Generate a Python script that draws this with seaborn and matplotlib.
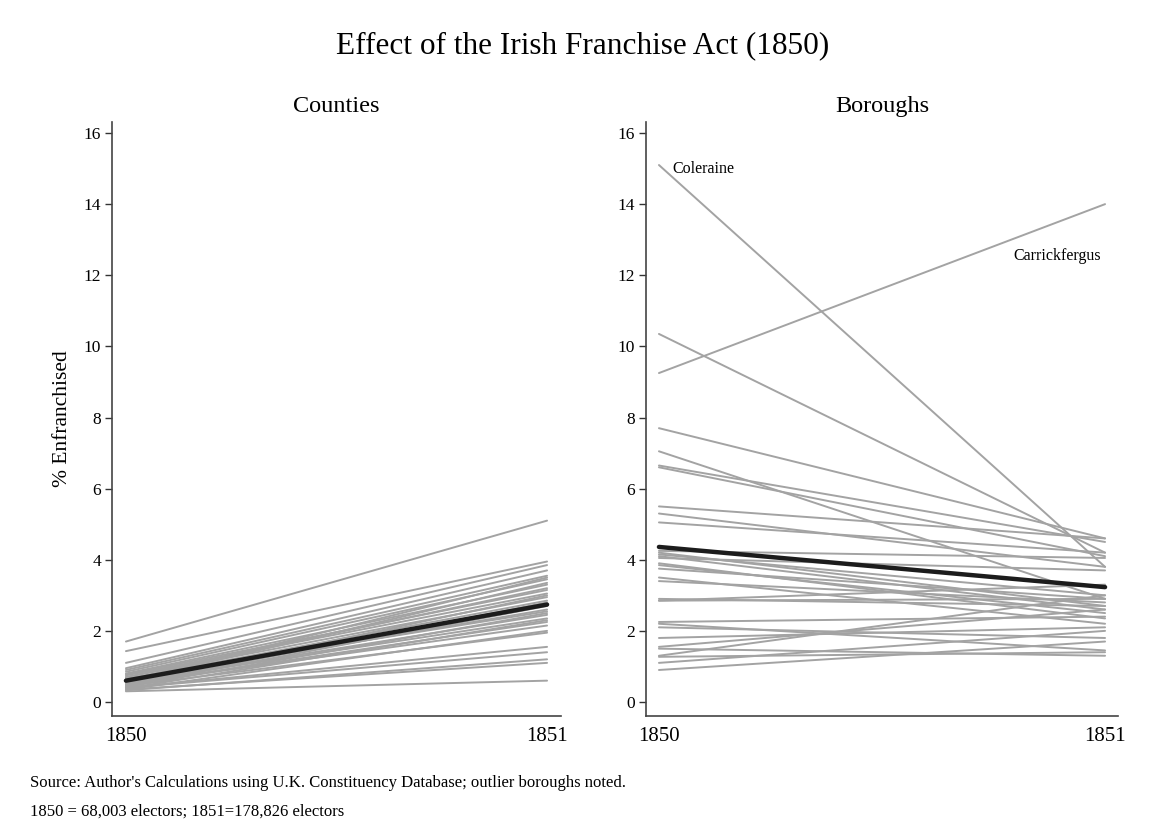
import numpy as np
import pandas as pd
import matplotlib
matplotlib.use("Agg")
import matplotlib.pyplot as plt
import seaborn as sns

# data: % enfranchised, 1850 -> 1851
years = [1850, 1851]

county_1850 = [1.70, 1.43, 1.10, 0.95, 0.90, 0.85, 0.80, 0.78, 0.75, 0.70, 0.65,
               0.60, 0.55, 0.55, 0.50, 0.50, 0.45, 0.40, 0.40, 0.35, 0.30, 0.60,
               0.50, 0.45, 0.42, 0.38, 0.35, 0.70, 0.65, 0.33, 0.48, 0.58]
county_1851 = [5.10, 3.95, 3.85, 3.70, 3.55, 3.45, 3.30, 3.15, 3.05, 2.95, 2.85,
               2.60, 2.45, 2.35, 2.25, 2.15, 1.95, 1.55, 1.40, 1.10, 0.60, 3.50,
               3.00, 2.70, 2.50, 2.30, 2.00, 3.20, 2.55, 1.20, 2.80, 3.35]
county_avg = [0.60, 2.74]

borough_names = ["Coleraine", "Carrickfergus"] + [f"b{i}" for i in range(31)]
borough_1850 = [15.10, 9.25, 10.35, 7.70, 7.05, 6.65, 6.60, 5.50, 5.30, 5.05, 4.20,
                4.15, 4.10, 4.05, 3.85, 3.75, 3.50, 3.40, 2.90, 2.85, 2.85, 2.25,
                2.10, 1.80, 1.55, 1.30, 1.27, 1.10, 0.90, 1.50, 2.20, 3.90, 4.25]
borough_1851 = [3.80, 14.00, 4.20, 4.60, 2.90, 4.50, 4.10, 4.60, 3.80, 4.20, 2.70,
                3.00, 2.60, 3.70, 2.50, 2.90, 2.20, 2.80, 2.70, 3.30, 2.90, 2.40,
                1.80, 2.10, 2.60, 3.00, 1.40, 2.00, 1.70, 1.30, 1.45, 2.35, 4.05]
borough_avg = [4.36, 3.23]

outliers = {"Coleraine": (1850.03, 15.0, "left"),
            "Carrickfergus": (1850.99, 12.55, "right")}


def long_df(v50, v51, names=None):
    if names is None:
        names = [f"u{i}" for i in range(len(v50))]
    rows = []
    for n, a, b in zip(names, v50, v51):
        rows.append({"unit": n, "year": years[0], "pct": a})
        rows.append({"unit": n, "year": years[1], "pct": b})
    return pd.DataFrame(rows)


sns.set_theme(style="white")
plt.rcParams["font.family"] = ["Liberation Serif", "DejaVu Serif"]
plt.rcParams["text.color"] = "black"
plt.rcParams["axes.labelcolor"] = "black"
plt.rcParams["xtick.color"] = "black"
plt.rcParams["ytick.color"] = "black"

GREY = "#a3a3a3"
DARK = "#1c1c1c"

fig = plt.figure(figsize=(11.54, 8.39), dpi=100)
ax1 = fig.add_axes([0.0971, 0.1466, 0.389, 0.708])
ax2 = fig.add_axes([0.5598, 0.1466, 0.409, 0.708])

panels = [
    (ax1, long_df(county_1850, county_1851), county_avg, "Counties", 0.033),
    (ax2, long_df(borough_1850, borough_1851, borough_names), borough_avg, "Boroughs", 0.029),
]

for ax, df, avg, title, pad in panels:
    sns.lineplot(data=df, x="year", y="pct", units="unit", estimator=None,
                 color=GREY, linewidth=1.4, ax=ax)
    sns.lineplot(x=years, y=avg, color=DARK, linewidth=3.2, ax=ax)
    ax.set_xlim(years[0] - pad, years[1] + pad)
    ax.set_ylim(-0.394, 16.31)
    ax.set_yticks(range(0, 17, 2))
    ax.set_xticks(years)
    ax.set_xticklabels([str(y) for y in years], fontsize=15)
    ax.tick_params(axis="y", labelsize=12.5, length=5, width=1, color="#333333",
                   direction="out", left=True, pad=3)
    ax.tick_params(axis="x", length=0, pad=8)
    ax.set_xlabel("")
    ax.set_ylabel("")
    ax.set_title(title, fontsize=17.5, pad=7)
    sns.despine(ax=ax)
    for s in ["left", "bottom"]:
        ax.spines[s].set_color("#444444")
        ax.spines[s].set_linewidth(1.2)

ax1.set_ylabel("% Enfranchised", fontsize=15.5, labelpad=8)

for name, (x, y, ha) in outliers.items():
    ax2.text(x, y, name, ha=ha, va="center", fontsize=11.5)

fig.text(0.505, 0.945, "Effect of the Irish Franchise Act (1850)",
         ha="center", va="center", fontsize=22.5)
fig.text(0.026, 0.067, "Source: Author's Calculations using U.K. Constituency Database; outlier boroughs noted.",
         ha="left", va="center", fontsize=12)
fig.text(0.026, 0.033, "1850 = 68,003 electors; 1851=178,826 electors",
         ha="left", va="center", fontsize=12)

fig.savefig("out.png", dpi=100, facecolor="white")
